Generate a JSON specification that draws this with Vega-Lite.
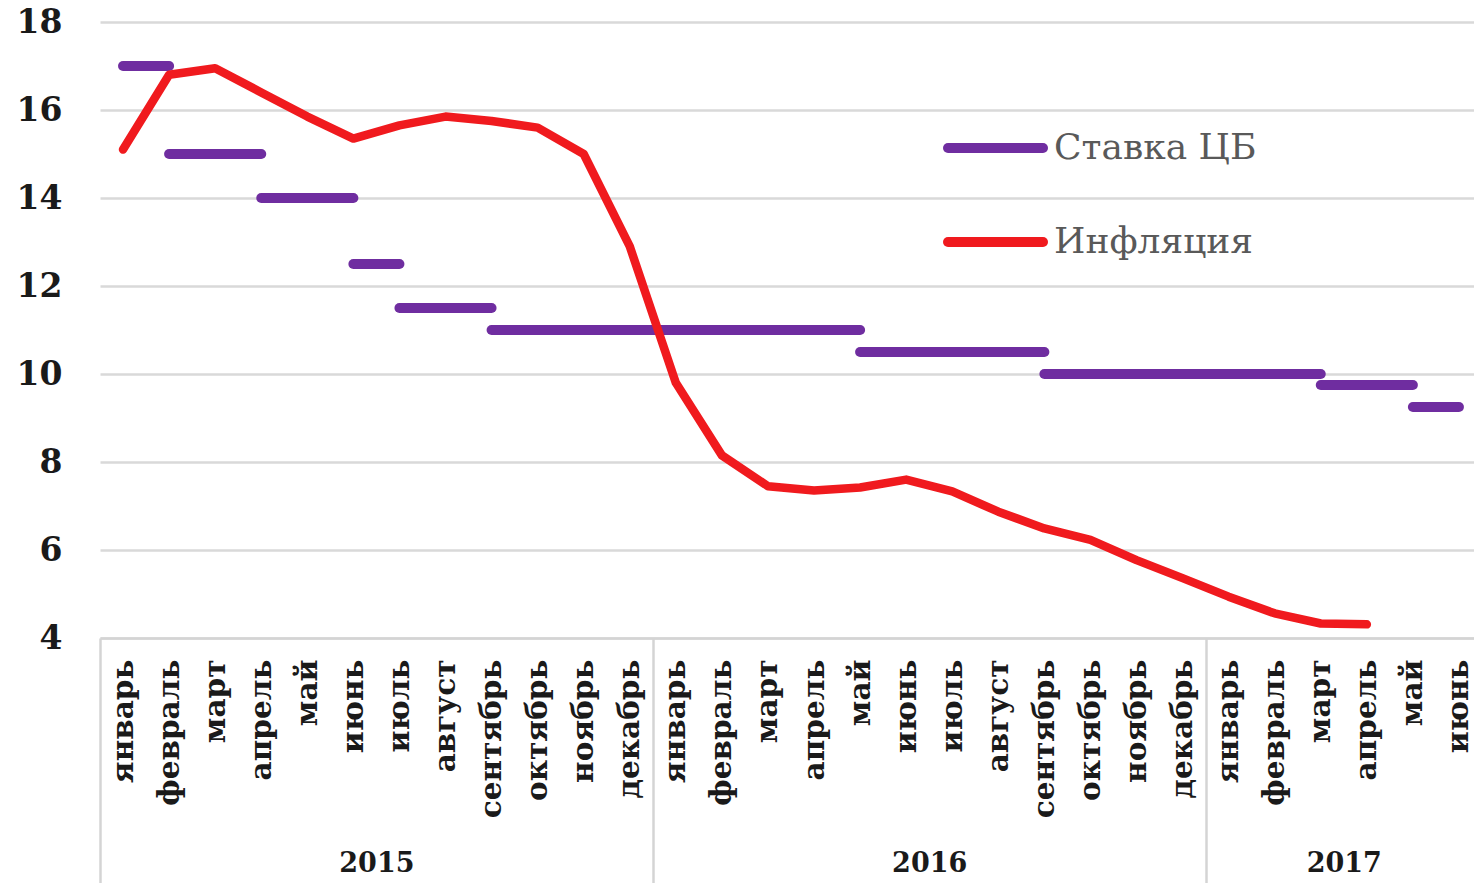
{
  "$schema": "https://vega.github.io/schema/vega-lite/v6.json",
  "width": 1382,
  "height": 616,
  "autosize": {"type": "none"},
  "padding": {"left": 100, "top": 22, "right": 0, "bottom": 245},
  "background": "white",
  "config": {"view": {"stroke": null}, "font": "DejaVu Serif"},
  "datasets": {
    "rate": [
      {"series": "Ставка ЦБ", "seg": 1, "idx": 0, "value": 17},
      {"series": "Ставка ЦБ", "seg": 1, "idx": 1, "value": 17},
      {"series": "Ставка ЦБ", "seg": 2, "idx": 1, "value": 15},
      {"series": "Ставка ЦБ", "seg": 2, "idx": 3, "value": 15},
      {"series": "Ставка ЦБ", "seg": 3, "idx": 3, "value": 14},
      {"series": "Ставка ЦБ", "seg": 3, "idx": 5, "value": 14},
      {"series": "Ставка ЦБ", "seg": 4, "idx": 5, "value": 12.5},
      {"series": "Ставка ЦБ", "seg": 4, "idx": 6, "value": 12.5},
      {"series": "Ставка ЦБ", "seg": 5, "idx": 6, "value": 11.5},
      {"series": "Ставка ЦБ", "seg": 5, "idx": 8, "value": 11.5},
      {"series": "Ставка ЦБ", "seg": 6, "idx": 8, "value": 11},
      {"series": "Ставка ЦБ", "seg": 6, "idx": 16, "value": 11},
      {"series": "Ставка ЦБ", "seg": 7, "idx": 16, "value": 10.5},
      {"series": "Ставка ЦБ", "seg": 7, "idx": 20, "value": 10.5},
      {"series": "Ставка ЦБ", "seg": 8, "idx": 20, "value": 10},
      {"series": "Ставка ЦБ", "seg": 8, "idx": 26, "value": 10},
      {"series": "Ставка ЦБ", "seg": 9, "idx": 26, "value": 9.75},
      {"series": "Ставка ЦБ", "seg": 9, "idx": 28, "value": 9.75},
      {"series": "Ставка ЦБ", "seg": 10, "idx": 28, "value": 9.25},
      {"series": "Ставка ЦБ", "seg": 10, "idx": 29, "value": 9.25}
    ],
    "infl": [
      {"series": "Инфляция", "idx": 0, "value": 15.1},
      {"series": "Инфляция", "idx": 1, "value": 16.8},
      {"series": "Инфляция", "idx": 2, "value": 16.95},
      {"series": "Инфляция", "idx": 3, "value": 16.4},
      {"series": "Инфляция", "idx": 4, "value": 15.85},
      {"series": "Инфляция", "idx": 5, "value": 15.35},
      {"series": "Инфляция", "idx": 6, "value": 15.65},
      {"series": "Инфляция", "idx": 7, "value": 15.85},
      {"series": "Инфляция", "idx": 8, "value": 15.75},
      {"series": "Инфляция", "idx": 9, "value": 15.6},
      {"series": "Инфляция", "idx": 10, "value": 15.0},
      {"series": "Инфляция", "idx": 11, "value": 12.9},
      {"series": "Инфляция", "idx": 12, "value": 9.8},
      {"series": "Инфляция", "idx": 13, "value": 8.15},
      {"series": "Инфляция", "idx": 14, "value": 7.45},
      {"series": "Инфляция", "idx": 15, "value": 7.35},
      {"series": "Инфляция", "idx": 16, "value": 7.42},
      {"series": "Инфляция", "idx": 17, "value": 7.6},
      {"series": "Инфляция", "idx": 18, "value": 7.33},
      {"series": "Инфляция", "idx": 19, "value": 6.87},
      {"series": "Инфляция", "idx": 20, "value": 6.49},
      {"series": "Инфляция", "idx": 21, "value": 6.23},
      {"series": "Инфляция", "idx": 22, "value": 5.77},
      {"series": "Инфляция", "idx": 23, "value": 5.36},
      {"series": "Инфляция", "idx": 24, "value": 4.94},
      {"series": "Инфляция", "idx": 25, "value": 4.56},
      {"series": "Инфляция", "idx": 26, "value": 4.33},
      {"series": "Инфляция", "idx": 27, "value": 4.31}
    ]
  },
  "layer": [
    {
      "data": {"name": "rate"},
      "mark": {"type": "line", "strokeWidth": 10, "strokeCap": "round", "strokeJoin": "round"},
      "encoding": {
        "x": {
          "field": "idx",
          "type": "quantitative",
          "scale": {"domain": [-0.5, 29.5], "nice": false, "zero": false},
          "axis": {
            "orient": "bottom",
            "title": null,
            "values": [0,1,2,3,4,5,6,7,8,9,10,11,12,13,14,15,16,17,18,19,20,21,22,23,24,25,26,27,28,29],
            "labelExpr": "['январь','февраль','март','апрель','май','июнь','июль','август','сентябрь','октябрь','ноябрь','декабрь'][datum.value % 12]",
            "labelAngle": -90,
            "labelAlign": "right",
            "labelBaseline": "middle",
            "labelFont": "DejaVu Serif",
            "labelFontWeight": "bold",
            "labelFontSize": 29.5,
            "labelColor": "#1a1a1a",
            "labelPadding": 21,
            "labelOverlap": false,
            "labelFlush": false,
            "labelBound": false,
            "labelLimit": 400,
            "ticks": false,
            "grid": false,
            "domain": true,
            "domainColor": "#d4d4d4",
            "domainWidth": 2.5
          }
        },
        "y": {
          "field": "value",
          "type": "quantitative",
          "scale": {"domain": [4, 18], "nice": false, "zero": false},
          "axis": {
            "title": null,
            "values": [4, 6, 8, 10, 12, 14, 16, 18],
            "domain": false,
            "ticks": false,
            "grid": true,
            "gridColor": "#d9d9d9",
            "gridWidth": 2.5,
            "labelFont": "DejaVu Serif",
            "labelFontWeight": "bold",
            "labelFontSize": 33,
            "labelColor": "#1a1a1a",
            "labelPadding": 38,
            "labelBaseline": "middle"
          }
        },
        "detail": {"field": "seg", "type": "nominal"},
        "color": {
          "field": "series",
          "type": "nominal",
          "scale": {"domain": ["Ставка ЦБ", "Инфляция"], "range": ["#6f2da0", "#f01a1e"]},
          "legend": {
            "orient": "none",
            "legendX": 843,
            "legendY": 96,
            "title": null,
            "direction": "vertical",
            "symbolType": "stroke",
            "symbolSize": 9025,
            "symbolStrokeWidth": 10,
            "labelFont": "DejaVu Serif",
            "labelFontSize": 36,
            "labelColor": "#595959",
            "labelOffset": 6,
            "labelLimit": 500,
            "rowPadding": 34,
            "clipHeight": 60,
            "encode": {"symbols": {"update": {"strokeCap": {"value": "round"}}}}
          }
        }
      }
    },
    {
      "data": {"name": "infl"},
      "mark": {"type": "line", "strokeWidth": 8.5, "strokeCap": "round", "strokeJoin": "round"},
      "encoding": {
        "x": {
          "field": "idx",
          "type": "quantitative",
          "axis": {
            "orient": "bottom",
            "title": null,
            "values": [-0.5, 5.5, 11.5, 17.5, 23.5, 26.5, 29.5],
            "labelExpr": "datum.value == 5.5 ? '2015' : datum.value == 17.5 ? '2016' : datum.value == 26.5 ? '2017' : ''",
            "labelAngle": 0,
            "labelAlign": "center",
            "labelBaseline": "top",
            "labelFont": "DejaVu Serif",
            "labelFontWeight": "bold",
            "labelFontSize": 27,
            "labelColor": "#1a1a1a",
            "labelPadding": -33,
            "labelOverlap": false,
            "labelFlush": false,
            "labelBound": false,
            "ticks": true,
            "tickSize": 245,
            "tickWidth": 2.5,
            "tickColor": "#d4d4d4",
            "tickOpacity": {"condition": {"test": "datum.value == 5.5 || datum.value == 17.5 || datum.value == 26.5", "value": 0}, "value": 1},
            "grid": false,
            "domain": false
          }
        },
        "y": {"field": "value", "type": "quantitative"},
        "color": {"field": "series", "type": "nominal"}
      }
    }
  ],
  "resolve": {"axis": {"x": "independent"}}
}
